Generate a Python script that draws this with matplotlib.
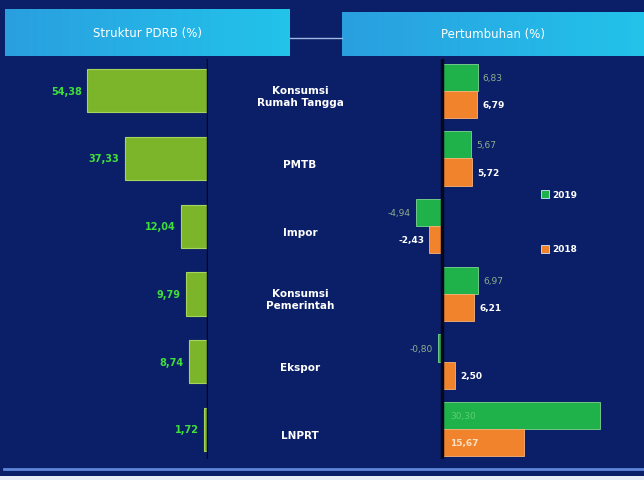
import numpy as np
import matplotlib.pyplot as plt
import matplotlib.transforms as mtransforms
from matplotlib.patches import Rectangle
from matplotlib.colors import LinearSegmentedColormap

# data
kategori = ['Konsumsi\nRumah Tangga', 'PMTB', 'Impor', 'Konsumsi\nPemerintah', 'Ekspor', 'LNPRT']
struktur = [54.38, 37.33, 12.04, 9.79, 8.74, 1.72]
tumbuh_2019 = [6.83, 5.67, -4.94, 6.97, -0.80, 30.30]
tumbuh_2018 = [6.79, 5.72, -2.43, 6.21, 2.50, 15.67]

BG = '#0b1f68'
W, H = 644, 481


def box(x0, y0, x1, y1):
    # pixel box -> figure fraction [left, bottom, width, height]
    return [x0 / W, 1 - y1 / H, (x1 - x0) / W, (y1 - y0) / H]


def fmt(v):
    return f'{v:.2f}'.replace('.', ',')


fig = plt.figure(figsize=(6.44, 4.81), dpi=100, facecolor=BG)

# header boxes
cmap = LinearSegmentedColormap.from_list('hdr', ['#2a9fe0', '#22c3ea'])
grad = np.linspace(0, 1, 100).reshape(1, -1)
for (x0, y0, x1, y1), title in [((5, 10, 290, 57), 'Struktur PDRB (%)'),
                                ((342, 13, 644, 57), 'Pertumbuhan (%)')]:
    hax = fig.add_axes(box(x0, y0, x1, y1))
    hax.imshow(grad, aspect='auto', cmap=cmap, extent=[0, 1, 0, 1])
    hax.set_axis_off()
    hax.text(0.5, 0.5, title, color='white', fontsize=8.5, ha='center', va='center',
             transform=hax.transAxes)
fig.add_artist(plt.Line2D([290 / W, 342 / W], [1 - 39 / H, 1 - 39 / H],
                          color='#9fb8e0', lw=1, transform=fig.transFigure))

y = np.arange(len(kategori))
ylim = (5.44, -0.47)

# left: struktur
ax_l = fig.add_axes(box(0, 60, 208, 460))
ax_l.set_facecolor('none')
ax_l.barh(y, struktur, height=0.64, color='#7cb52a', edgecolor='#a6d45e', linewidth=0.8)
ax_l.set_xlim(93.7, 0)
ax_l.set_ylim(*ylim)
ax_l.axvline(0, color='#05071f', lw=2.5)
for yi, v in zip(y, struktur):
    ax_l.text(v + 2.5, yi, fmt(v), color='#3fe03a', fontsize=7, fontweight='bold',
              ha='right', va='center')
ax_l.set_axis_off()

# category labels in the middle
tr = mtransforms.blended_transform_factory(fig.transFigure, ax_l.transData)
for yi, lab in zip(y, kategori):
    fig.text(300 / W, yi + 0.08, lab, transform=tr, color='white', fontsize=7.5,
             fontweight='bold', ha='center', va='center', linespacing=1.3)

# right: pertumbuhan
ax_r = fig.add_axes(box(342, 60, 644, 460))
ax_r.set_facecolor('none')
ax_r.barh(y - 0.2, tumbuh_2019, height=0.4, color='#1fb24a', edgecolor='#7fd68f', linewidth=0.6)
ax_r.barh(y + 0.2, tumbuh_2018, height=0.4, color='#f0832c', edgecolor='#f7b27a', linewidth=0.6)
ax_r.set_xlim(-19.2, 38.8)
ax_r.set_ylim(*ylim)
ax_r.axvline(0, color='#05071f', lw=2.5)
for yi, v in zip(y, tumbuh_2019):
    if v > 20:
        ax_r.text(1.5, yi - 0.2, fmt(v), color='#5ccf6e', fontsize=6.5, ha='left', va='center')
    elif v >= 0:
        ax_r.text(v + 1.0, yi - 0.2, fmt(v), color='#8fae8a', fontsize=6.5, ha='left', va='center')
    else:
        ax_r.text(v - 1.0, yi - 0.2, fmt(v), color='#8fae8a', fontsize=6.5, ha='right', va='center')
for yi, v in zip(y, tumbuh_2018):
    if v > 12:
        ax_r.text(1.5, yi + 0.2, fmt(v), color='#fde0c0', fontsize=6.5, fontweight='bold',
                  ha='left', va='center')
    elif v >= 0:
        ax_r.text(v + 1.0, yi + 0.2, fmt(v), color='white', fontsize=6.5, fontweight='bold',
                  ha='left', va='center')
    else:
        ax_r.text(v - 1.0, yi + 0.2, fmt(v), color='white', fontsize=6.5, fontweight='bold',
                  ha='right', va='center')
ax_r.set_axis_off()

# legend
for py, col, lab in [(195, '#1fb24a', '2019'), (250, '#f0832c', '2018')]:
    fig.add_artist(Rectangle((541 / W, 1 - (py + 4) / H), 8 / W, 8 / H, facecolor=col,
                             edgecolor='#d0e8ff', lw=0.6, transform=fig.transFigure))
    fig.text(552 / W, 1 - py / H, lab, color='white', fontsize=6.5, fontweight='bold',
             ha='left', va='center')

# bottom line
fig.add_artist(plt.Line2D([4 / W, 1], [1 - 470 / H, 1 - 470 / H], color='#5f86d8', lw=2,
                          transform=fig.transFigure))
fig.add_artist(Rectangle((0, 0), 1, 4 / H, facecolor='#e8ecf5', transform=fig.transFigure))

fig.savefig('out.png', dpi=100, facecolor=BG)
